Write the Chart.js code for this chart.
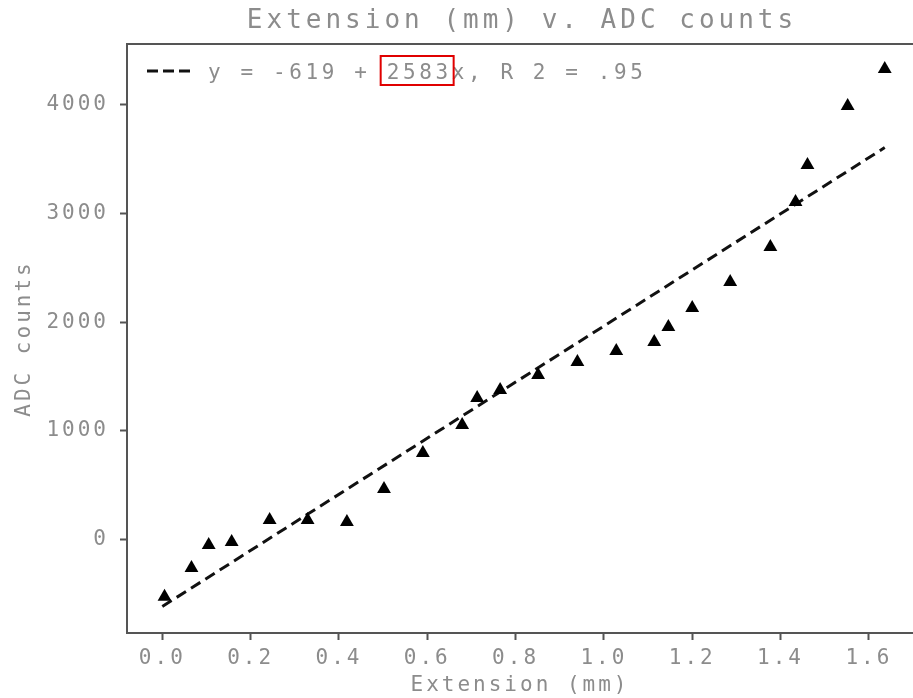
<!DOCTYPE html>
<html>
<head>
<meta charset="utf-8">
<script src="https://cdn.jsdelivr.net/npm/chart.js@4"></script>
<style>
  html, body { margin: 0; padding: 0; background: #fff; overflow: hidden; }
  canvas { display: block; }
</style>
</head>
<body>
<canvas id="graph" width="913" height="698"></canvas>
<script>
const extension = [0.005, 0.066, 0.105, 0.157, 0.243, 0.329, 0.418, 0.502, 0.590, 0.679, 0.713, 0.765,
                   0.851, 0.940, 1.028, 1.114, 1.146, 1.200, 1.286, 1.377, 1.434, 1.461, 1.552, 1.636];
const adcCounts = [-530, -264, -53, -25, 178, 178, 159, 463, 795, 1052, 1301, 1375,
                   1513, 1633, 1734, 1817, 1955, 2130, 2369, 2692, 3106, 3447, 3990, 4330];

// least squares line ends
const fitExtension = [0, 1.636];
const fitCounts = [-619, 3607];

const xTicks = [0, 0.2, 0.4, 0.6, 0.8, 1.0, 1.2, 1.4, 1.6];
const yTicks = [0, 1000, 2000, 3000, 4000];

const titleText = 'Extension (mm) v. ADC counts';
const fitLabel = ['y = -619 + ', '2583', 'x, R 2 = .95'];
const xTitle = 'Extension (mm)';
const yTitle = 'ADC counts';

const textColor = '#8c8c8c';
const axisColor = '#555';
const mono = '"DejaVu Sans Mono", monospace';

const spacing = {
  id: 'spacing',
  beforeUpdate(chart) { chart.ctx.letterSpacing = '3px'; },
  beforeLayout(chart) { chart.ctx.letterSpacing = '3px'; },
  beforeDraw(chart) { chart.ctx.letterSpacing = '3px'; }
};

const decor = {
  id: 'decor',
  afterDraw(chart) {
    const ctx = chart.ctx, a = chart.chartArea;
    ctx.save();
    // top of the frame
    ctx.strokeStyle = axisColor;
    ctx.lineWidth = 2;
    ctx.beginPath();
    ctx.moveTo(a.left, a.top);
    ctx.lineTo(a.right, a.top);
    ctx.stroke();

    // title
    ctx.fillStyle = textColor;
    ctx.font = '26px ' + mono;
    ctx.letterSpacing = '4px';
    ctx.textAlign = 'center';
    ctx.textBaseline = 'alphabetic';
    ctx.fillText(titleText, (a.left + a.right) / 2 + 2, 28);

    // legend entry for the fit
    ctx.strokeStyle = '#111';
    ctx.lineWidth = 3;
    ctx.setLineDash([11, 5]);
    ctx.beginPath();
    ctx.moveTo(a.left + 20, 71);
    ctx.lineTo(a.left + 64, 71);
    ctx.stroke();
    ctx.setLineDash([]);

    ctx.font = '21px ' + mono;
    ctx.letterSpacing = '3.6px';
    ctx.textAlign = 'left';
    const tx = a.left + 81, ty = 79;
    ctx.fillText(fitLabel.join(''), tx, ty);
    const x0 = tx + ctx.measureText(fitLabel[0]).width;
    const w = ctx.measureText(fitLabel[1]).width;
    ctx.strokeStyle = '#e00000';
    ctx.lineWidth = 2;
    ctx.strokeRect(x0 - 6, 56, w + 8, 29);
    ctx.restore();
  }
};

const ctx = document.getElementById('graph').getContext('2d');
new Chart(ctx, {
  type: 'scatter',
  data: {
    datasets: [
      {
        label: 'fit',
        data: fitExtension.map((x, i) => ({ x: x, y: fitCounts[i] })),
        showLine: true,
        borderColor: '#111',
        borderWidth: 3,
        borderDash: [11, 6],
        pointRadius: 0,
        order: 2
      },
      {
        label: 'data',
        data: extension.map((x, i) => ({ x: x, y: adcCounts[i] })),
        pointStyle: 'triangle',
        pointRadius: 8,
        pointBackgroundColor: '#000',
        pointBorderWidth: 0,
        order: 1
      }
    ]
  },
  options: {
    responsive: false,
    animation: false,
    layout: { autoPadding: false, padding: { top: 44, right: 0, left: 0, bottom: 0 } },
    plugins: {
      legend: { display: false },
      tooltip: { enabled: false }
    },
    scales: {
      x: {
        type: 'linear',
        min: -0.08,
        max: 1.70,
        afterBuildTicks(scale) { scale.ticks = xTicks.map(v => ({ value: v })); },
        afterFit(scale) {
          scale.height = 65;
          scale.paddingLeft = 0;
          scale.paddingRight = 0;
        },
        ticks: {
          color: textColor,
          font: { family: mono, size: 21 },
          padding: 6,
          maxRotation: 0,
          autoSkip: false,
          callback: v => v.toFixed(1)
        },
        grid: { drawOnChartArea: false, tickLength: 7, tickColor: axisColor, tickWidth: 2 },
        border: { color: axisColor, width: 2 },
        title: {
          display: true,
          text: xTitle,
          color: textColor,
          font: { family: mono, size: 21 },
          padding: { top: 0, bottom: 0 }
        }
      },
      y: {
        min: -863,
        max: 4561,
        afterBuildTicks(scale) { scale.ticks = yTicks.map(v => ({ value: v })); },
        afterFit(scale) {
          scale.width = 127;
          scale.paddingTop = 0;
          scale.paddingBottom = 0;
        },
        ticks: {
          color: textColor,
          font: { family: mono, size: 21 },
          padding: 11,
          autoSkip: false,
          callback: v => String(v)
        },
        grid: { drawOnChartArea: false, tickLength: 7, tickColor: axisColor, tickWidth: 2 },
        border: { color: axisColor, width: 2 },
        title: {
          display: true,
          text: yTitle,
          color: textColor,
          font: { family: mono, size: 21 },
          padding: { top: 12, bottom: 0 }
        }
      }
    }
  },
  plugins: [spacing, decor]
});
</script>
</body>
</html>
